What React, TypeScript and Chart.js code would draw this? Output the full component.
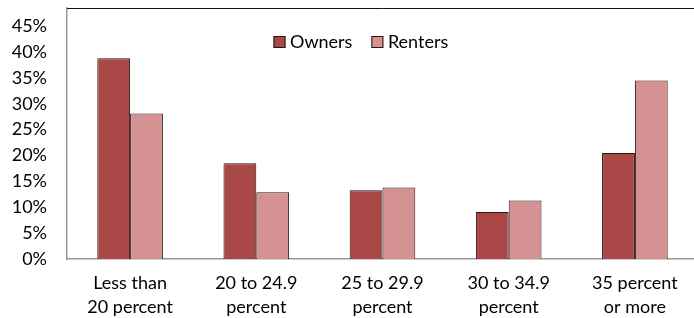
import React, { useEffect, useRef } from "react";
import { Chart, registerables } from "chart.js";

Chart.register(...registerables);

const categories: string[][] = [
  ["Less than", "20 percent"],
  ["20 to 24.9", "percent"],
  ["25 to 29.9", "percent"],
  ["30 to 34.9", "percent"],
  ["35 percent", "or more"],
];
const seriesNames = ["Owners", "Renters"];
const owners = [38.8, 18.5, 13.3, 9.1, 20.5];
const renters = [28.1, 12.9, 13.8, 11.3, 34.5];
const yMax = 48.5;
const yStep = 5;

const FONT = "Lato, 'Open Sans', sans-serif";

const frameAndLegend = {
  id: "frameAndLegend",
  afterDraw(chart: any) {
    const ctx = chart.ctx as CanvasRenderingContext2D;
    const area = chart.chartArea;
    ctx.save();
    // top frame line
    ctx.strokeStyle = "#111";
    ctx.lineWidth = 1;
    ctx.beginPath();
    ctx.moveTo(area.left, Math.round(area.top) + 0.5);
    ctx.lineTo(chart.width, Math.round(area.top) + 0.5);
    ctx.stroke();
    // legend inside plot
    ctx.font = `18px ${FONT}`;
    ctx.textBaseline = "middle";
    let x = 273.5;
    const y = 42;
    chart.data.datasets.forEach((ds: any) => {
      ctx.fillStyle = ds.backgroundColor;
      ctx.fillRect(x, y - 6, 12, 12);
      ctx.strokeStyle = ds.borderColor;
      ctx.lineWidth = 1;
      ctx.strokeRect(x + 0.5, y - 5.5, 11, 11);
      ctx.fillStyle = "#000";
      ctx.fillText(ds.label, x + 16.5, y);
      x += 16.5 + ctx.measureText(ds.label).width + 19;
    });
    ctx.restore();
  },
};

export default function App() {
  const ref = useRef<HTMLCanvasElement | null>(null);
  useEffect(() => {
    if (!ref.current) return;
    const chart = new Chart(ref.current, {
      type: "bar",
      data: {
        labels: categories,
        datasets: [
          {
            label: seriesNames[0],
            data: owners,
            backgroundColor: "#A94846",
            borderColor: "#2a1515",
            borderWidth: 1,
          },
          {
            label: seriesNames[1],
            data: renters,
            backgroundColor: "#D49392",
            borderColor: "#2a1515",
            borderWidth: 1,
          },
        ],
      },
      options: {
        animation: false,
        responsive: true,
        maintainAspectRatio: false,
        layout: { padding: { top: 8, left: 0, right: 0, bottom: 0 } },
        plugins: { legend: { display: false }, tooltip: { enabled: false } },
        datasets: { bar: { categoryPercentage: 0.52, barPercentage: 1 } },
        scales: {
          x: {
            grid: { display: false, drawTicks: false },
            border: { display: true, color: "#999", width: 1.5 },
            ticks: {
              color: "#000",
              font: { family: FONT, size: 18, lineHeight: 1.33 },
              padding: 12,
              maxRotation: 0,
              autoSkip: false,
            },
            afterFit(scale: any) {
              scale.height = 59;
              scale.paddingLeft = 0;
              scale.paddingRight = 0;
              scale.paddingTop = 0;
              scale.paddingBottom = 0;
            },
          },
          y: {
            min: 0,
            max: yMax,
            grid: { display: false, drawTicks: false },
            border: { display: true, color: "#999", width: 1.5 },
            ticks: {
              stepSize: yStep,
              includeBounds: false,
              color: "#000",
              font: { family: FONT, size: 18 },
              padding: 20,
              callback: (v: any) => `${v}%`,
            },
            afterFit(scale: any) {
              scale.width = 67;
              scale.paddingTop = 0;
              scale.paddingBottom = 0;
              scale.paddingLeft = 0;
              scale.paddingRight = 0;
            },
          },
        },
      },
      plugins: [frameAndLegend],
    });
    return () => chart.destroy();
  }, []);
  return (
    <div
      style={{
        position: "absolute",
        top: 0,
        left: 0,
        width: 694,
        height: 318,
        overflow: "hidden",
        background: "#fff",
      }}
    >
      <div style={{ position: "relative", width: 698, height: 318 }}>
        <canvas ref={ref} />
      </div>
    </div>
  );
}
